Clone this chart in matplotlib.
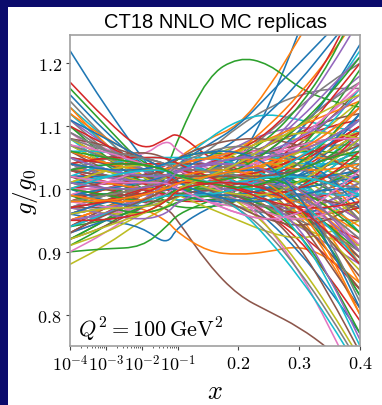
import numpy as np
import matplotlib
matplotlib.use('Agg')
import matplotlib.pyplot as plt
from matplotlib.path import Path
from matplotlib.patches import PathPatch, Rectangle
from matplotlib.ticker import FixedLocator, FixedFormatter

plt.rcParams['mathtext.fontset'] = 'cm'

x_nodes = [1e-4, 1e-3, 1e-2, 0.05, 0.1, 0.15, 0.2, 0.25, 0.3, 0.35, 0.4]

# g/g0 of every replica at the nodes above
replicas = [
    [1.22, 1.13, 1.05, 1.00, 0.99, 1.00, 1.04, 1.13, 1.25, 1.38, 1.50],
    [1.00, 1.00, 1.01, 1.03, 1.05, 1.08, 1.10, 1.16, 1.24, 1.32, 1.40],
    [1.16, 1.10, 1.04, 1.03, 1.08, 1.18, 1.21, 1.20, 1.16, 1.14, 1.13],
    [1.17, 1.11, 1.06, 1.08, 1.09, 1.05, 1.03, 1.02, 1.00, 0.98, 0.95],
    [1.06, 1.04, 1.02, 1.01, 1.00, 0.99, 0.98, 0.97, 0.96, 0.94, 0.91],
    [1.00, 0.99, 0.98, 0.97, 0.95, 0.88, 0.83, 0.805, 0.78, 0.745, 0.70],
    [1.10, 1.06, 1.05, 1.08, 1.06, 1.03, 1.02, 1.02, 1.03, 1.05, 1.08],
    [1.12, 1.07, 1.03, 1.02, 1.03, 1.06, 1.10, 1.13, 1.15, 1.16, 1.16],
    [0.88, 0.91, 0.95, 0.97, 0.99, 1.00, 1.02, 1.04, 1.06, 1.10, 1.14],
    [1.13, 1.08, 1.03, 1.01, 1.04, 1.08, 1.11, 1.12, 1.11, 1.10, 1.09],
    [0.96, 0.95, 0.94, 0.91, 0.94, 0.97, 0.99, 1.00, 1.01, 1.02, 1.03],
    [0.99, 0.98, 0.97, 0.95, 0.93, 0.90, 0.895, 0.90, 0.91, 0.89, 0.85],
    [0.90, 0.905, 0.907, 0.94, 0.96, 0.98, 1.00, 1.01, 1.03, 1.04, 1.06],
    [0.95, 0.97, 0.99, 1.01, 1.02, 1.03, 1.04, 1.05, 1.06, 1.08, 1.11],
    [1.02, 1.01, 1.00, 1.00, 1.01, 1.02, 1.02, 1.01, 0.99, 0.96, 0.92],
    [0.98, 0.99, 1.01, 1.03, 1.04, 1.04, 1.03, 1.01, 0.98, 0.94, 0.89],
    [1.09, 1.05, 1.01, 0.99, 0.98, 0.98, 1.00, 1.03, 1.07, 1.12, 1.17],
    [0.93, 0.96, 0.99, 1.02, 1.03, 1.03, 1.02, 1.00, 0.99, 0.99, 1.00],
    [1.04, 1.03, 1.02, 1.02, 1.02, 1.01, 1.00, 0.98, 0.95, 0.90, 0.84],
    [0.97, 0.98, 1.00, 1.01, 1.01, 1.00, 0.99, 0.99, 1.01, 1.05, 1.10],
    [1.05, 1.03, 1.01, 1.02, 1.04, 1.07, 1.10, 1.15, 1.20, 1.25, 1.30],
    [1.01, 1.01, 1.01, 1.02, 1.03, 1.05, 1.06, 1.06, 1.05, 1.03, 1.00],
    [1.07, 1.04, 1.00, 0.98, 0.97, 0.97, 0.98, 1.00, 1.02, 1.04, 1.05],
    [0.94, 0.97, 1.00, 1.02, 1.02, 1.01, 0.99, 0.96, 0.93, 0.89, 0.84],
    [1.00, 1.00, 0.99, 0.99, 1.00, 1.02, 1.04, 1.07, 1.10, 1.14, 1.18],
    [1.03, 1.02, 1.02, 1.03, 1.04, 1.03, 1.01, 0.98, 0.96, 0.95, 0.95],
    [0.99, 0.99, 1.00, 1.00, 0.99, 0.98, 0.97, 0.97, 0.98, 1.01, 1.05],
    [1.11, 1.06, 1.02, 1.00, 0.99, 0.99, 1.00, 1.01, 1.02, 1.02, 1.01],
    [0.96, 0.98, 1.01, 1.03, 1.05, 1.06, 1.06, 1.05, 1.02, 0.97, 0.90],
    [1.02, 1.02, 1.01, 1.00, 0.99, 0.99, 1.01, 1.04, 1.09, 1.15, 1.22],
    [0.98, 0.99, 1.00, 1.02, 1.02, 1.02, 1.01, 1.00, 1.00, 1.01, 1.03],
    [1.05, 1.03, 1.01, 1.00, 1.00, 1.01, 1.03, 1.04, 1.04, 1.02, 0.98],
    [0.92, 0.95, 0.98, 1.00, 1.01, 1.02, 1.03, 1.03, 1.02, 1.00, 0.96],
    [1.08, 1.05, 1.03, 1.02, 1.02, 1.01, 0.99, 0.96, 0.92, 0.86, 0.79],
    [1.00, 1.01, 1.02, 1.04, 1.05, 1.04, 1.02, 1.00, 0.99, 0.99, 1.01],
    [0.97, 0.97, 0.98, 0.99, 1.00, 1.01, 1.02, 1.04, 1.07, 1.11, 1.16],
    [1.03, 1.03, 1.02, 1.01, 1.00, 0.98, 0.96, 0.95, 0.95, 0.97, 1.00],
    [1.14, 1.08, 1.03, 1.00, 0.99, 1.00, 1.02, 1.04, 1.06, 1.07, 1.07],
    [0.95, 0.96, 0.99, 1.01, 1.03, 1.05, 1.07, 1.08, 1.08, 1.07, 1.05],
    [1.01, 1.00, 1.00, 1.01, 1.02, 1.02, 1.02, 1.01, 0.97, 0.91, 0.83],
    [0.99, 1.00, 1.01, 1.01, 1.00, 0.99, 1.00, 1.02, 1.05, 1.08, 1.11],
    [1.06, 1.04, 1.02, 1.02, 1.03, 1.04, 1.04, 1.02, 0.99, 0.95, 0.91],
    [0.91, 0.94, 0.98, 1.01, 1.02, 1.02, 1.02, 1.02, 1.03, 1.05, 1.09],
    [1.02, 1.01, 1.00, 0.99, 0.98, 0.98, 0.99, 1.01, 1.03, 1.06, 1.09],
    [0.98, 1.00, 1.02, 1.03, 1.03, 1.02, 1.00, 0.97, 0.94, 0.91, 0.88],
    [1.04, 1.02, 1.01, 1.01, 1.02, 1.03, 1.05, 1.07, 1.09, 1.11, 1.12],
    [0.96, 0.98, 1.00, 1.01, 1.01, 1.01, 1.01, 1.00, 0.98, 0.95, 0.90],
    [1.10, 1.06, 1.02, 1.00, 0.99, 0.98, 0.98, 0.99, 1.01, 1.04, 1.08],
    [1.00, 1.00, 1.01, 1.02, 1.03, 1.04, 1.05, 1.04, 1.02, 0.99, 0.95],
    [0.94, 0.96, 0.99, 1.01, 1.03, 1.04, 1.04, 1.03, 1.03, 1.04, 1.06],
    [1.05, 1.04, 1.03, 1.03, 1.03, 1.02, 0.99, 0.95, 0.90, 0.84, 0.77],
    [1.01, 1.01, 1.00, 1.00, 1.01, 1.01, 1.02, 1.03, 1.05, 1.08, 1.13],
    [0.97, 0.98, 0.99, 1.01, 1.02, 1.03, 1.03, 1.03, 1.01, 0.98, 0.93],
    [1.03, 1.02, 1.01, 1.00, 0.99, 1.00, 1.02, 1.05, 1.08, 1.10, 1.11],
    [0.99, 0.99, 1.00, 1.02, 1.04, 1.05, 1.05, 1.04, 1.03, 1.02, 1.02],
    [1.07, 1.05, 1.02, 1.00, 0.99, 0.99, 0.99, 0.98, 0.96, 0.93, 0.89],
    [0.93, 0.95, 0.98, 1.00, 1.00, 1.01, 1.02, 1.04, 1.06, 1.09, 1.13],
    [1.02, 1.02, 1.02, 1.02, 1.01, 0.99, 0.97, 0.96, 0.96, 0.98, 1.01],
    [0.98, 0.98, 0.99, 1.00, 1.02, 1.04, 1.06, 1.08, 1.09, 1.09, 1.08],
    [1.12, 1.07, 1.02, 0.99, 0.98, 0.99, 1.01, 1.02, 1.01, 0.98, 0.93],
    [1.00, 1.01, 1.01, 1.01, 1.01, 1.01, 1.00, 0.99, 0.99, 1.00, 1.02],
    [0.95, 0.97, 1.00, 1.02, 1.04, 1.05, 1.04, 1.01, 0.96, 0.89, 0.80],
    [1.04, 1.03, 1.01, 1.00, 0.99, 0.98, 0.99, 1.02, 1.06, 1.12, 1.19],
    [1.01, 1.00, 0.99, 1.00, 1.02, 1.03, 1.02, 1.00, 0.97, 0.94, 0.92],
    [0.97, 0.99, 1.01, 1.02, 1.01, 1.00, 1.00, 1.01, 1.04, 1.07, 1.10],
    [1.06, 1.03, 1.01, 1.01, 1.02, 1.04, 1.06, 1.06, 1.04, 1.00, 0.95],
    [0.90, 0.93, 0.97, 1.00, 1.01, 1.01, 1.01, 1.00, 0.99, 0.98, 0.97],
    [1.02, 1.01, 1.01, 1.02, 1.03, 1.03, 1.02, 1.02, 1.03, 1.05, 1.07],
    [0.99, 1.00, 1.00, 1.00, 0.99, 0.97, 0.95, 0.93, 0.92, 0.93, 0.95],
    [1.08, 1.04, 1.01, 1.00, 1.00, 1.01, 1.03, 1.05, 1.05, 1.03, 0.99],
    [0.96, 0.97, 0.99, 1.01, 1.02, 1.02, 1.03, 1.05, 1.09, 1.15, 1.23],
    [1.03, 1.03, 1.02, 1.01, 1.01, 1.02, 1.03, 1.02, 0.99, 0.93, 0.85],
    [1.00, 0.99, 0.99, 1.00, 1.01, 1.02, 1.04, 1.05, 1.06, 1.06, 1.05],
    [0.98, 1.00, 1.02, 1.04, 1.04, 1.03, 1.01, 0.99, 0.98, 0.99, 1.02],
    [1.09, 1.06, 1.03, 1.01, 1.00, 0.99, 0.98, 0.97, 0.97, 0.98, 1.00],
    [0.94, 0.97, 1.00, 1.01, 1.01, 1.00, 0.99, 0.99, 1.00, 1.03, 1.07],
    [1.01, 1.02, 1.02, 1.03, 1.03, 1.04, 1.04, 1.03, 1.00, 0.96, 0.91],
    [1.05, 1.02, 1.00, 0.99, 1.00, 1.02, 1.05, 1.09, 1.13, 1.17, 1.20],
    [0.97, 0.98, 1.00, 1.02, 1.03, 1.02, 1.00, 0.97, 0.94, 0.92, 0.91],
    [1.02, 1.01, 1.00, 1.00, 1.00, 1.01, 1.03, 1.04, 1.04, 1.04, 1.04],
    [0.99, 0.99, 1.00, 1.01, 1.02, 1.01, 0.99, 0.97, 0.96, 0.97, 0.99],
    [1.13, 1.07, 1.02, 1.00, 1.00, 1.02, 1.04, 1.05, 1.04, 1.01, 0.96],
    [0.92, 0.95, 0.99, 1.02, 1.03, 1.03, 1.02, 1.01, 1.01, 1.02, 1.05],
    [1.04, 1.03, 1.02, 1.01, 1.00, 0.99, 0.98, 0.98, 1.00, 1.04, 1.09],
    [1.00, 1.00, 1.01, 1.02, 1.02, 1.01, 1.01, 1.02, 1.04, 1.07, 1.11],
    [0.96, 0.98, 1.01, 1.03, 1.04, 1.04, 1.03, 1.00, 0.95, 0.88, 0.81],
    [1.03, 1.02, 1.00, 0.99, 0.99, 1.00, 1.01, 1.01, 1.00, 0.99, 0.99],
    [0.98, 0.99, 1.00, 1.00, 1.00, 1.01, 1.03, 1.06, 1.10, 1.14, 1.17],
    [1.07, 1.04, 1.02, 1.02, 1.02, 1.02, 1.01, 0.99, 0.96, 0.92, 0.87],
    [0.95, 0.96, 0.98, 1.00, 1.01, 1.03, 1.05, 1.06, 1.06, 1.05, 1.03],
    [1.01, 1.01, 1.01, 1.01, 1.00, 0.99, 0.99, 1.00, 1.02, 1.06, 1.12],
    [1.00, 1.02, 1.03, 1.04, 1.05, 1.06, 1.05, 1.03, 1.00, 0.97, 0.94],
    [1.10, 1.05, 1.01, 0.99, 0.99, 1.00, 1.00, 1.00, 1.00, 1.01, 1.03],
    [0.93, 0.96, 1.00, 1.02, 1.02, 1.01, 0.99, 0.97, 0.96, 0.96, 0.97],
    [1.02, 1.02, 1.01, 1.01, 1.02, 1.04, 1.07, 1.09, 1.10, 1.09, 1.07],
    [0.99, 0.99, 0.99, 1.00, 1.01, 1.01, 1.00, 0.98, 0.95, 0.90, 0.84],
    [1.05, 1.03, 1.02, 1.02, 1.01, 1.00, 1.00, 1.01, 1.03, 1.05, 1.06],
    [0.97, 0.99, 1.01, 1.02, 1.02, 1.02, 1.03, 1.03, 1.02, 1.01, 1.00],
    [1.04, 1.03, 1.01, 1.01, 1.01, 1.00, 0.98, 0.96, 0.95, 0.96, 0.98],
    [0.96, 0.97, 0.99, 1.01, 1.02, 1.02, 1.02, 1.03, 1.06, 1.10, 1.16],
    [1.15, 1.09, 1.04, 1.01, 0.99, 0.98, 0.98, 0.99, 1.00, 1.01, 1.02],
    [1.00, 1.00, 1.00, 1.01, 1.02, 1.03, 1.04, 1.03, 1.00, 0.95, 0.88],
    [0.98, 0.99, 1.01, 1.03, 1.05, 1.06, 1.05, 1.02, 0.98, 0.94, 0.90],
    [1.03, 1.01, 1.00, 0.99, 0.99, 0.99, 1.00, 1.02, 1.04, 1.07, 1.10],
    [0.94, 0.96, 0.99, 1.01, 1.01, 1.02, 1.04, 1.07, 1.11, 1.16, 1.21],
    [1.06, 1.04, 1.02, 1.01, 1.00, 1.00, 1.01, 1.00, 0.97, 0.92, 0.86],
    [1.01, 1.00, 1.00, 1.01, 1.03, 1.05, 1.06, 1.06, 1.06, 1.07, 1.09],
    [0.99, 1.00, 1.01, 1.02, 1.01, 0.99, 0.97, 0.96, 0.97, 1.00, 1.04],
    [1.08, 1.05, 1.02, 1.00, 1.00, 1.00, 1.01, 1.03, 1.06, 1.08, 1.09],
    [0.97, 0.98, 1.00, 1.01, 1.01, 1.00, 1.00, 1.00, 0.98, 0.94, 0.88],
    [1.02, 1.02, 1.02, 1.03, 1.04, 1.03, 1.02, 1.01, 1.02, 1.04, 1.08],
    [0.95, 0.97, 0.99, 1.00, 1.00, 1.00, 1.02, 1.04, 1.05, 1.05, 1.03],
    [1.04, 1.02, 1.01, 1.01, 1.02, 1.03, 1.03, 1.01, 0.97, 0.91, 0.83],
    [1.00, 1.01, 1.01, 1.00, 0.99, 0.99, 1.00, 1.03, 1.08, 1.14, 1.20],
    [1.11, 1.07, 1.03, 1.02, 1.01, 1.01, 1.01, 1.01, 1.00, 0.98, 0.95],
    [0.92, 0.94, 0.97, 0.99, 1.00, 1.02, 1.04, 1.06, 1.07, 1.08, 1.08],
    [1.00, 1.00, 1.01, 1.02, 1.03, 1.02, 0.99, 0.94, 0.87, 0.78, 0.68],
    [1.03, 1.02, 1.01, 1.01, 1.00, 0.99, 0.97, 0.93, 0.87, 0.80, 0.72],
    [0.98, 0.99, 1.00, 1.02, 1.02, 1.01, 0.98, 0.94, 0.88, 0.81, 0.73],
    [1.05, 1.03, 1.02, 1.02, 1.02, 1.00, 0.97, 0.92, 0.86, 0.79, 0.71],
    [0.99, 1.00, 1.01, 1.02, 1.03, 1.05, 1.08, 1.12, 1.17, 1.23, 1.29],
    [1.02, 1.01, 1.00, 1.00, 1.01, 1.03, 1.06, 1.10, 1.15, 1.21, 1.28],
    [1.01, 1.00, 1.00, 1.01, 1.02, 1.03, 1.05, 1.08, 1.13, 1.20, 1.30],
    [0.97, 0.98, 1.00, 1.01, 1.02, 1.04, 1.06, 1.09, 1.14, 1.21, 1.31],
    [1.04, 1.02, 1.01, 1.01, 1.01, 1.02, 1.04, 1.07, 1.12, 1.19, 1.27],
    [1.08, 1.07, 1.05, 1.04, 1.03, 1.02, 1.01, 1.00, 0.99, 0.98, 0.97],
    [0.95, 0.96, 0.97, 0.98, 0.99, 1.00, 1.02, 1.05, 1.08, 1.12, 1.16],
    [1.03, 1.05, 1.05, 1.04, 1.03, 1.01, 0.99, 0.97, 0.95, 0.93, 0.90],
    [0.97, 0.96, 0.96, 0.97, 0.99, 1.01, 1.03, 1.04, 1.04, 1.03, 1.01],
    [1.06, 1.06, 1.05, 1.03, 1.01, 0.99, 0.98, 0.98, 1.00, 1.03, 1.07],
    [0.93, 0.95, 0.97, 0.99, 1.01, 1.03, 1.05, 1.06, 1.05, 1.02, 0.97],
    [1.01, 1.03, 1.04, 1.04, 1.04, 1.05, 1.06, 1.08, 1.10, 1.12, 1.14],
    [0.99, 0.97, 0.96, 0.97, 0.98, 0.99, 0.99, 0.97, 0.93, 0.86, 0.77],
    [1.10, 1.07, 1.04, 1.02, 1.01, 1.01, 1.02, 1.03, 1.05, 1.07, 1.10],
    [0.96, 0.97, 0.98, 1.00, 1.02, 1.04, 1.04, 1.02, 0.99, 0.95, 0.90],
    [1.04, 1.05, 1.06, 1.05, 1.03, 1.00, 0.97, 0.95, 0.94, 0.95, 0.98],
    [0.98, 0.97, 0.97, 0.99, 1.01, 1.02, 1.03, 1.05, 1.08, 1.12, 1.17],
    [1.07, 1.05, 1.03, 1.02, 1.02, 1.03, 1.04, 1.03, 0.99, 0.92, 0.82],
    [0.91, 0.93, 0.96, 0.98, 1.00, 1.01, 1.02, 1.03, 1.04, 1.06, 1.09],
    [1.02, 1.04, 1.05, 1.05, 1.05, 1.05, 1.04, 1.02, 1.00, 0.99, 0.99],
    [1.00, 0.98, 0.97, 0.98, 1.00, 1.02, 1.03, 1.03, 1.02, 1.02, 1.03],
    [1.12, 1.08, 1.05, 1.03, 1.02, 1.01, 1.00, 0.99, 0.98, 0.96, 0.93],
    [0.94, 0.95, 0.97, 0.99, 1.00, 1.00, 1.00, 1.01, 1.04, 1.08, 1.14],
    [1.05, 1.04, 1.04, 1.04, 1.03, 1.02, 1.02, 1.03, 1.05, 1.07, 1.09],
    [0.97, 0.96, 0.95, 0.96, 0.98, 1.00, 1.00, 0.98, 0.94, 0.86, 0.76],
    [1.03, 1.02, 1.02, 1.03, 1.05, 1.07, 1.08, 1.08, 1.07, 1.05, 1.02],
    [0.99, 1.01, 1.03, 1.04, 1.03, 1.01, 0.98, 0.96, 0.95, 0.96, 1.00],
    [1.09, 1.06, 1.04, 1.03, 1.02, 1.00, 0.98, 0.97, 0.98, 1.01, 1.05],
    [0.92, 0.94, 0.96, 0.98, 1.00, 1.03, 1.06, 1.08, 1.09, 1.09, 1.08],
    [1.01, 1.02, 1.03, 1.04, 1.04, 1.03, 1.01, 0.98, 0.93, 0.85, 0.75],
    [0.96, 0.98, 0.99, 1.00, 1.00, 0.99, 0.99, 1.00, 1.03, 1.07, 1.12],
    [1.06, 1.04, 1.03, 1.03, 1.04, 1.05, 1.05, 1.04, 1.03, 1.03, 1.04],
    [1.00, 0.99, 0.98, 0.98, 0.99, 1.01, 1.02, 1.02, 1.00, 0.97, 0.93],
    [1.04, 1.05, 1.05, 1.05, 1.04, 1.02, 1.00, 0.99, 1.00, 1.02, 1.06],
    [0.95, 0.96, 0.98, 1.01, 1.03, 1.04, 1.05, 1.06, 1.08, 1.11, 1.15],
    [1.02, 1.00, 0.98, 0.98, 0.99, 1.00, 0.99, 0.96, 0.91, 0.83, 0.74],
    [1.07, 1.06, 1.04, 1.03, 1.02, 1.02, 1.03, 1.05, 1.07, 1.08, 1.08],
    [0.98, 0.99, 1.00, 1.02, 1.04, 1.06, 1.07, 1.06, 1.04, 1.00, 0.95],
    [1.01, 1.03, 1.04, 1.03, 1.02, 1.00, 0.99, 0.99, 1.01, 1.04, 1.08],
    [0.94, 0.96, 0.98, 0.99, 0.99, 0.99, 1.00, 1.02, 1.05, 1.08, 1.11],
    [1.11, 1.08, 1.05, 1.03, 1.01, 0.99, 0.98, 0.98, 0.99, 1.00, 1.00],
    [0.99, 0.98, 0.98, 1.00, 1.02, 1.03, 1.03, 1.01, 0.97, 0.90, 0.80],
    [1.03, 1.04, 1.04, 1.03, 1.02, 1.02, 1.03, 1.06, 1.10, 1.15, 1.21],
    [0.97, 0.98, 0.99, 1.01, 1.01, 1.01, 1.00, 0.98, 0.97, 0.97, 0.98],
    [1.05, 1.03, 1.02, 1.02, 1.03, 1.04, 1.04, 1.03, 1.00, 0.96, 0.90],
    [0.93, 0.96, 0.98, 1.00, 1.02, 1.02, 1.02, 1.02, 1.03, 1.05, 1.07],
    [1.02, 1.01, 1.01, 1.01, 1.00, 0.98, 0.96, 0.95, 0.96, 0.99, 1.03],
    [1.08, 1.06, 1.05, 1.04, 1.03, 1.03, 1.02, 1.01, 0.99, 0.96, 0.92],
    [0.96, 0.97, 0.97, 0.98, 1.00, 1.02, 1.04, 1.07, 1.10, 1.13, 1.15],
    [1.00, 1.02, 1.03, 1.03, 1.02, 1.01, 1.01, 1.02, 1.02, 1.01, 0.99],
    [1.04, 1.03, 1.03, 1.04, 1.05, 1.06, 1.06, 1.04, 0.99, 0.91, 0.81],
    [0.98, 0.98, 0.99, 1.00, 1.01, 1.02, 1.03, 1.04, 1.06, 1.09, 1.13],
    [1.06, 1.05, 1.04, 1.03, 1.02, 1.01, 1.00, 1.01, 1.03, 1.05, 1.06],
    [0.95, 0.95, 0.96, 0.98, 1.00, 1.01, 1.01, 1.00, 0.97, 0.93, 0.88],
    [1.01, 1.00, 1.00, 1.01, 1.03, 1.04, 1.05, 1.05, 1.06, 1.08, 1.11],
]

x_ticks = [1e-4, 1e-3, 1e-2, 0.1, 0.2, 0.3, 0.4]
x_ticklabels = [r'$10^{-4}$', r'$10^{-3}$', r'$10^{-2}$', r'$10^{-1}$',
                r'$0.2$', r'$0.3$', r'$0.4$']
y_ticks = [0.8, 0.9, 1.0, 1.1, 1.2]
y_ticklabels = [r'$0.8$', r'$0.9$', r'$1.0$', r'$1.1$', r'$1.2$']


# log below x=0.1, linear above it
LIN = 16.94


def fwd(x):
    x = np.asarray(x, dtype=float)
    return np.where(x <= 0.1, np.log10(np.clip(x, 1e-12, None)) + 4,
                    3 + (x - 0.1) * LIN)


def inv(u):
    u = np.asarray(u, dtype=float)
    return np.where(u <= 3, 10 ** (np.minimum(u, 3) - 4), 0.1 + (u - 3) / LIN)


def smooth_path(xs, ys):
    # quadratic bezier through the midpoints, nodes as control points
    xs = np.asarray(xs, float)
    ys = np.asarray(ys, float)
    mx = inv((fwd(xs[:-1]) + fwd(xs[1:])) / 2)
    my = (ys[:-1] + ys[1:]) / 2
    verts = [(xs[0], ys[0]), (mx[0], my[0])]
    codes = [Path.MOVETO, Path.LINETO]
    for i in range(1, len(xs) - 1):
        verts += [(xs[i], ys[i]), (mx[i], my[i])]
        codes += [Path.CURVE3, Path.CURVE3]
    verts.append((xs[-1], ys[-1]))
    codes.append(Path.LINETO)
    return Path(verts, codes)


fig = plt.figure(figsize=(3.82, 4.06), dpi=100, facecolor='#0b0b6c')
fig.patches.append(Rectangle((8 / 382, 0), 1, 1 - 8 / 406, transform=fig.transFigure,
                             facecolor='white', edgecolor='none', zorder=-10))
ax = fig.add_axes([70 / 382, 1 - 347 / 406, 290 / 382, 311 / 406])
ax.set_xscale('function', functions=(fwd, inv))

colors = plt.rcParams['axes.prop_cycle'].by_key()['color']
for i, rep in enumerate(replicas):
    ax.add_patch(PathPatch(smooth_path(x_nodes, rep), fill=False,
                           edgecolor=colors[i % len(colors)], lw=1.15))

ax.set_xlim(1e-4, 0.4)
ax.set_ylim(0.75, 1.245)

minor = [m * 10.0 ** k for k in (-4, -3, -2) for m in range(2, 10)]
ax.xaxis.set_major_locator(FixedLocator(x_ticks))
ax.xaxis.set_major_formatter(FixedFormatter(x_ticklabels))
ax.xaxis.set_minor_locator(FixedLocator(minor))
ax.yaxis.set_major_locator(FixedLocator(y_ticks))
ax.yaxis.set_major_formatter(FixedFormatter(y_ticklabels))

ax.tick_params(axis='both', which='major', labelsize=13, length=3, width=0.8,
               color='#444444', pad=3)
ax.tick_params(axis='x', which='minor', length=1.5, width=0.6, color='#444444')
for sp in ax.spines.values():
    sp.set_color('#a0a0a0')
    sp.set_linewidth(1.2)

ax.set_title('CT18 NNLO MC replicas', fontsize=14.5, family='Liberation Sans', pad=6)
ax.set_ylabel(r'$g/g_0$', fontsize=18)
ax.yaxis.set_label_coords(-0.105, 0.5)
ax.set_xlabel(r'$x$', fontsize=19, va='center')
ax.xaxis.set_label_coords(0.5, -0.145)
ax.text(0.028, 0.03, r'$Q^2 = 100\,\mathrm{GeV}^2$', transform=ax.transAxes,
        fontsize=16, ha='left', va='baseline')

fig.savefig('out.png', dpi=100, facecolor=fig.get_facecolor())
